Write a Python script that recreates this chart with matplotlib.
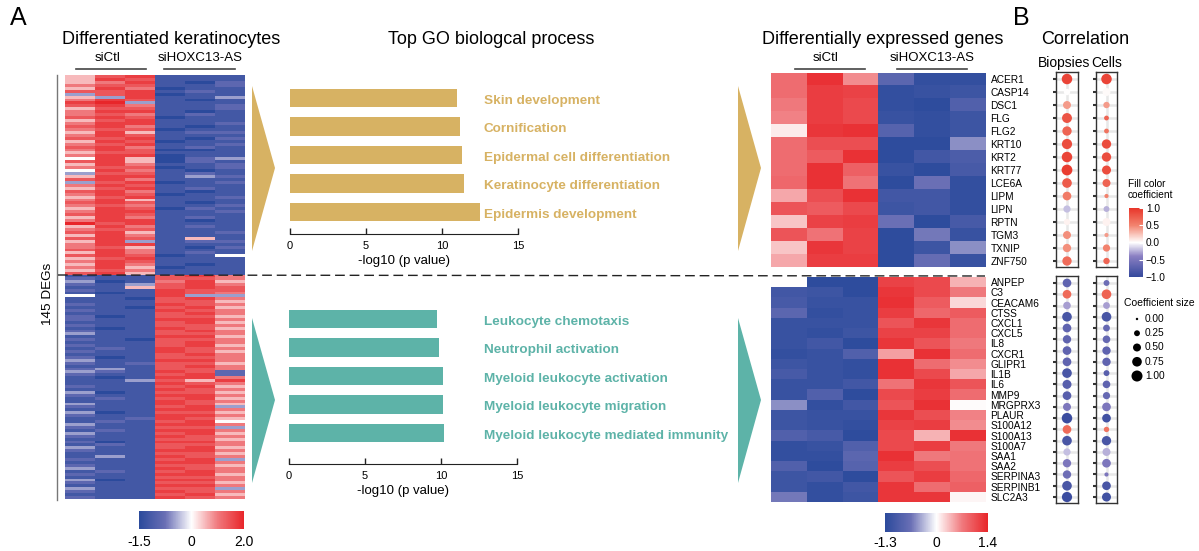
import numpy as np
import matplotlib
matplotlib.use("Agg")
import matplotlib.pyplot as plt
from matplotlib.colors import LinearSegmentedColormap, TwoSlopeNorm, Normalize
from matplotlib.cm import ScalarMappable
from matplotlib.patches import Polygon
from matplotlib.lines import Line2D

plt.rcParams["font.family"] = ["Liberation Sans", "DejaVu Sans"]

# ---------------- data ----------------
# left heatmap: one character per cell, level 0 (deep blue) .. 9 (deep red)
level_values = [-1.5, -1.2, -0.9, -0.5, 0.0, 0.5, 1.0, 1.4, 1.7, 2.0]

deg_up_rows = [
    "578111", "587111", "568102", "677112", "586011", "778121", "378011", "538113",
    "687101", "893111", "786112", "577112", "688101", "676121", "787011", "578111",
    "688112", "786101", "677011", "585122", "687111", "778102", "587011", "678112",
    "786121", "687001", "577111", "688011", "485023", "785021", "586112", "677012",
    "486101", "377121", "588132", "786111", "378012", "687111", "578121", "786101",
    "687011", "578112", "685111", "787101", "676112", "587021", "688112", "787111",
    "586121", "688101", "978111", "586121", "677111", "785112", "586111", "787151",
    "583122", "688111", "675102", "786111", "586121", "787014", "578111", "687111",
    "586101", "685011", "576111", "785111",
]

deg_down_rows = [
    "111786", "211776", "301685", "213786", "115787", "211877", "101876", "411833",
    "110786", "111775", "211876", "110785", "211876", "111786", "201775", "211886",
    "111785", "211776", "101875", "211786", "311776", "111885", "210776", "111786",
    "211785", "121876", "211875", "111786", "201776", "311886", "212775", "111786",
    "231776", "321872", "211782", "101886", "113758", "111876", "211785", "111876",
    "301775", "211886", "121785", "111876", "311875", "211783", "111886", "301775",
    "211886", "112875", "121784", "311886", "211773", "121886", "311785", "211876",
    "111775", "201886", "121776", "311785", "211886", "111775", "131876", "211783",
    "111886", "211775", "311876", "121786", "211885", "111776", "301886", "211775",
    "111886", "311773", "211876", "111785", "211876",
]

go_up_terms = ["Skin development", "Cornification", "Epidermal cell differentiation",
               "Keratinocyte differentiation", "Epidermis development"]
go_up_values = [11.0, 11.2, 11.3, 11.45, 12.5]

go_down_terms = ["Leukocyte chemotaxis", "Neutrophil activation", "Myeloid leukocyte activation",
                 "Myeloid leukocyte migration", "Myeloid leukocyte mediated immunity"]
go_down_values = [9.75, 9.85, 10.1, 10.15, 10.2]

genes_up = ["ACER1", "CASP14", "DSC1", "FLG", "FLG2", "KRT10", "KRT2", "KRT77",
            "LCE6A", "LIPM", "LIPN", "RPTN", "TGM3", "TXNIP", "ZNF750"]
expr_up = [
    [0.80, 1.30, 0.60, -0.80, -1.20, -1.20],
    [0.80, 1.20, 1.15, -1.20, -1.15, -1.10],
    [0.70, 1.20, 1.10, -1.20, -1.25, -0.90],
    [0.65, 1.20, 1.10, -1.15, -1.20, -1.10],
    [0.10, 1.25, 1.30, -0.85, -1.20, -1.10],
    [0.80, 1.05, 1.05, -1.25, -1.25, -0.50],
    [0.80, 0.95, 1.30, -1.25, -1.05, -0.95],
    [0.80, 1.30, 0.90, -1.15, -1.25, -1.00],
    [0.85, 1.30, 0.75, -1.25, -0.65, -1.20],
    [0.45, 1.05, 1.30, -1.05, -1.05, -1.20],
    [1.00, 0.95, 1.10, -1.10, -1.05, -1.20],
    [0.30, 1.15, 1.20, -0.65, -1.25, -1.00],
    [1.00, 0.75, 1.15, -1.25, -0.60, -1.15],
    [0.30, 1.25, 1.15, -1.25, -1.10, -0.50],
    [0.45, 1.20, 1.20, -1.25, -0.70, -1.15],
]

genes_down = ["ANPEP", "C3", "CEACAM6", "CTSS", "CXCL1", "CXCL5", "IL8", "CXCR1", "GLIPR1",
              "IL1B", "IL6", "MMP9", "MRGPRX3", "PLAUR", "S100A12", "S100A13", "S100A7",
              "SAA1", "SAA2", "SERPINA3", "SERPINB1", "SLC2A3"]
expr_down = [
    [0.00, -1.25, -1.25, 1.15, 1.10, 0.40],
    [-1.05, -1.10, -1.25, 1.25, 1.10, 0.70],
    [-1.00, -1.15, -1.15, 1.30, 0.95, 0.20],
    [-0.80, -1.20, -1.15, 1.20, 0.85, 0.95],
    [-1.15, -1.15, -1.15, 1.00, 1.25, 0.80],
    [-1.15, -1.20, -1.10, 1.15, 1.15, 0.80],
    [-1.15, -1.05, -1.25, 1.25, 1.00, 0.70],
    [-1.20, -1.15, -0.90, 0.50, 1.30, 0.80],
    [-1.10, -1.15, -1.20, 1.30, 0.80, 0.60],
    [-1.00, -1.15, -1.20, 1.30, 1.10, 0.45],
    [-1.15, -1.15, -1.05, 0.75, 1.25, 1.00],
    [-1.15, -0.90, -1.25, 1.10, 1.20, 0.80],
    [-0.50, -1.20, -1.05, 1.00, 1.30, 0.02],
    [-1.10, -1.15, -1.15, 1.25, 1.05, 0.65],
    [-1.10, -1.15, -1.20, 1.15, 1.20, 0.60],
    [-0.90, -1.00, -1.25, 1.10, 0.40, 1.30],
    [-1.20, -1.15, -0.90, 1.10, 1.20, 0.70],
    [-1.20, -1.20, -0.80, 1.30, 0.70, 0.75],
    [-0.90, -1.25, -0.85, 1.20, 1.05, 0.75],
    [-1.10, -1.05, -1.25, 1.00, 1.20, 0.85],
    [-1.10, -1.20, -1.05, 1.25, 0.80, 0.90],
    [-0.60, -1.20, -1.10, 1.25, 1.25, 0.05],
]

# correlation dots (colour = coefficient, size = coefficient size)
bio_up_coef = [0.9, 0.0, 0.4, 0.8, 0.7, 0.85, 0.9, 0.95, 0.75, 0.55, -0.2, 0.05, 0.45, 0.45, 0.65]
bio_up_size = [0.9, 0.3, 0.5, 0.8, 0.7, 0.85, 0.9, 0.95, 0.75, 0.6, 0.4, 0.3, 0.5, 0.55, 0.7]
cell_up_coef = [0.9, 0.02, 0.4, 0.7, 0.6, 0.85, 0.85, 0.85, 0.7, 0.5, -0.25, 0.05, 0.4, 0.5, 0.7]
cell_up_size = [0.9, 0.5, 0.3, 0.15, 0.15, 0.7, 0.7, 0.65, 0.5, 0.1, 0.25, 0.5, 0.1, 0.4, 0.3]

bio_down_coef = [-0.7, 0.65, -0.3, -0.85, -0.7, -0.7, -0.7, -0.7, -0.85, -0.75,
                 -0.75, -0.5, -0.95, 0.65, -0.85, -0.2, -0.5, -0.6, -0.85, -0.95]
bio_down_size = [0.6, 0.6, 0.45, 0.75, 0.6, 0.55, 0.6, 0.6, 0.75, 0.65,
                 0.6, 0.5, 0.9, 0.6, 0.75, 0.4, 0.55, 0.55, 0.75, 0.85]
cell_down_coef = [-0.6, 0.7, -0.3, -0.85, -0.65, -0.65, -0.7, -0.7, -0.75, -0.7,
                  -0.65, -0.5, -0.9, 0.6, -0.85, -0.25, -0.5, -0.5, -0.85, -0.9]
cell_down_size = [0.25, 0.75, 0.35, 0.75, 0.35, 0.45, 0.55, 0.55, 0.25, 0.45,
                  0.4, 0.6, 0.6, 0.2, 0.7, 0.5, 0.6, 0.1, 0.6, 0.65]

size_legend_values = [0.0, 0.25, 0.5, 0.75, 1.0]

# ---------------- styles ----------------
W, H = 1199, 551
gold = "#d7b263"
teal = "#5db3a8"
heat_cmap = LinearSegmentedColormap.from_list(
    "heat", [(0, "#2b4a9c"), (0.25, "#6a6fb5"), (0.5, "#ffffff"), (0.75, "#f0797d"), (1, "#e8262a")])
corr_cmap = LinearSegmentedColormap.from_list(
    "corr", [(0, "#34489c"), (0.3, "#8a7fc2"), (0.5, "#ffffff"), (0.75, "#f2836e"), (1, "#e8362a")])


def dot_size(v):
    return 3 + 60 * np.asarray(v)


def box(x0, y0, x1, y1):
    return [x0 / W, 1 - y1 / H, (x1 - x0) / W, (y1 - y0) / H]


def fx(x):
    return x / W


def fy(y):
    return 1 - y / H


fig = plt.figure(figsize=(W / 100, H / 100), dpi=100)

# ---------------- left heatmap ----------------
left_norm = TwoSlopeNorm(vcenter=0, vmin=-1.5, vmax=2.0)
up = np.array([[level_values[int(c)] for c in r] for r in deg_up_rows])
down = np.array([[level_values[int(c)] for c in r] for r in deg_down_rows])
for data, rect in [(up, box(65, 75, 245, 275)), (down, box(65, 275, 245, 499))]:
    ax = fig.add_axes(rect)
    ax.imshow(data, cmap=heat_cmap, norm=left_norm, aspect="auto", interpolation="nearest")
    ax.axis("off")

fig.add_artist(Line2D([fx(57), fx(57)], [fy(75), fy(500)], color="#777777", lw=1))
fig.text(fx(48), fy(294), "145 DEGs", rotation=90, ha="center", va="center", fontsize=9.7)

cax = fig.add_axes(box(139, 511, 244, 529))
cb = fig.colorbar(ScalarMappable(norm=left_norm, cmap=heat_cmap), cax=cax, orientation="horizontal")
cb.set_ticks([-1.5, 0, 2.0])
cb.set_ticklabels(["-1.5", "0", "2.0"])
cb.outline.set_visible(False)
cb.ax.tick_params(length=0, labelsize=10, pad=4)

# ---------------- GO bar charts ----------------
for terms, values, color, rect, ylim, label_x in [
    (go_up_terms, go_up_values, gold, box(290, 80, 518, 234), (4.77, -0.63), 12.76),
    (go_down_terms, go_down_values, teal, box(289, 300, 517, 464), (5.09, -0.67), 12.83),
]:
    ax = fig.add_axes(rect)
    ypos = np.arange(len(values))
    ax.barh(ypos, values, height=0.66, color=color)
    for y, t in zip(ypos, terms):
        ax.text(label_x, y + 0.1, t, color=color, fontsize=9.7, fontweight="bold",
                ha="left", va="center", clip_on=False)
    ax.set_xlim(0, 15)
    ax.set_ylim(*ylim)
    ax.set_xticks([0, 5, 10, 15])
    ax.set_yticks([])
    for s in ["left", "right", "top"]:
        ax.spines[s].set_visible(False)
    ax.spines["bottom"].set_color("#222222")
    ax.tick_params(axis="x", direction="in", length=4, width=1, labelsize=8, pad=5, color="#222222")
    ax.set_xlabel("-log10 (p value)", fontsize=9.5, labelpad=3)
    ax.patch.set_alpha(0)

# triangles
for pts, color in [
    ([(252, 86), (275, 168), (252, 251)], gold),
    ([(252, 318), (275, 400), (252, 483)], teal),
    ([(738, 86), (761, 168), (738, 251)], gold),
    ([(738, 318), (761, 400), (738, 483)], teal),
]:
    fig.add_artist(Polygon([(fx(x), fy(y)) for x, y in pts], closed=True, color=color,
                           transform=fig.transFigure, lw=0))

# ---------------- right heatmap ----------------
right_norm = TwoSlopeNorm(vcenter=0, vmin=-1.3, vmax=1.4)
for genes, data, rect in [(genes_up, expr_up, box(771, 73, 985, 267)),
                          (genes_down, expr_down, box(771, 277, 985, 502))]:
    ax = fig.add_axes(rect)
    ax.imshow(np.array(data), cmap=heat_cmap, norm=right_norm, aspect="auto", interpolation="nearest")
    ax.set_xticks([])
    ax.set_yticks(range(len(genes)))
    ax.set_yticklabels(genes, fontsize=7.3)
    ax.yaxis.tick_right()
    ax.tick_params(axis="y", length=0, pad=4)
    for s in ax.spines.values():
        s.set_visible(False)

cax = fig.add_axes(box(885, 513, 988, 532))
cb = fig.colorbar(ScalarMappable(norm=right_norm, cmap=heat_cmap), cax=cax, orientation="horizontal")
cb.set_ticks([-1.3, 0, 1.4])
cb.set_ticklabels(["-1.3", "0", "1.4"])
cb.outline.set_visible(False)
cb.ax.tick_params(length=0, labelsize=10, pad=3)

# dashed separator
fig.add_artist(Line2D([fx(58), fx(985)], [fy(275), fy(276)], color="#222222", lw=1,
                      linestyle=(0, (7, 3.5))))

# group labels
for cx, label, x0, x1 in [(108, "siCtl", 76, 146), (200, "siHOXC13-AS", 164, 235),
                          (826, "siCtl", 795, 865), (932, "siHOXC13-AS", 897, 967)]:
    fig.text(fx(cx), fy(58), label, ha="center", va="center", fontsize=9.5)
    fig.add_artist(Line2D([fx(x0), fx(x1)], [fy(69), fy(69)], color="#444444", lw=1.2))

# ---------------- correlation ----------------
corr_norm = Normalize(-1, 1)
for coef, size, rect, ylim in [
    (bio_up_coef, bio_up_size, box(1056, 72, 1078, 267), (14.46, -0.54)),
    (cell_up_coef, cell_up_size, box(1096, 72, 1117, 267), (14.46, -0.54)),
    (bio_down_coef, bio_down_size, box(1056, 276, 1078, 503), (19.53, -0.62)),
    (cell_down_coef, cell_down_size, box(1096, 276, 1117, 503), (19.53, -0.62)),
]:
    ax = fig.add_axes(rect)
    ypos = np.arange(len(coef))
    for y in ypos:
        ax.axhline(y, color="#e8e8e8", lw=1.8, zorder=1)
    ax.axvline(0, color="#e8e8e8", lw=1.8, zorder=1)
    ax.scatter(np.zeros(len(coef)), ypos, s=dot_size(size), c=coef, cmap=corr_cmap,
               norm=corr_norm, edgecolors="none", zorder=3)
    ax.set_xlim(-0.5, 0.5)
    ax.set_ylim(*ylim)
    ax.set_xticks([])
    ax.set_yticks(ypos)
    ax.set_yticklabels([])
    ax.tick_params(axis="y", length=2, width=1.5, color="#333333")
    for s in ax.spines.values():
        s.set_color("#333333")
        s.set_linewidth(1)

cax = fig.add_axes(box(1129, 208, 1143, 277))
cb = fig.colorbar(ScalarMappable(norm=corr_norm, cmap=corr_cmap), cax=cax)
cb.set_ticks([-1, -0.5, 0, 0.5, 1])
cb.set_ticklabels(["\u22121.0", "\u22120.5", "0.0", "0.5", "1.0"])
cb.outline.set_visible(False)
cb.ax.tick_params(color="white", direction="in", length=3, labelsize=7.3, pad=2)
fig.text(fx(1128), fy(179), "Fill color\ncoefficient", ha="left", va="top", fontsize=7.3, linespacing=1.1)

fig.text(fx(1124), fy(303), "Coefficient size", ha="left", va="center", fontsize=7.5)
ax = fig.add_axes(box(1128, 310, 1180, 384))
ly = np.arange(len(size_legend_values))
ax.scatter(np.full(len(ly), 9), ly, s=dot_size(size_legend_values), color="black",
           edgecolors="none")
for y, v in zip(ly, size_legend_values):
    ax.text(17, y, f"{v:.2f}", fontsize=7.3, ha="left", va="center")
ax.set_xlim(0, 52)
ax.set_ylim(4.56, -0.63)
ax.axis("off")

# ---------------- titles ----------------
fig.text(fx(10), fy(18), "A", fontsize=18, ha="left", va="center")
fig.text(fx(1013), fy(18), "B", fontsize=18, ha="left", va="center")
fig.text(fx(171), fy(40), "Differentiated keratinocytes", fontsize=13, ha="center", va="center")
fig.text(fx(491), fy(40), "Top GO biologcal process", fontsize=13, ha="center", va="center")
fig.text(fx(883), fy(40), "Differentially expressed genes", fontsize=13, ha="center", va="center")
fig.text(fx(1085), fy(40), "Correlation", fontsize=13, ha="center", va="center")
fig.text(fx(1064), fy(63), "Biopsies", fontsize=10, ha="center", va="center")
fig.text(fx(1107), fy(63), "Cells", fontsize=10, ha="center", va="center")

fig.savefig("out.png", dpi=100)
